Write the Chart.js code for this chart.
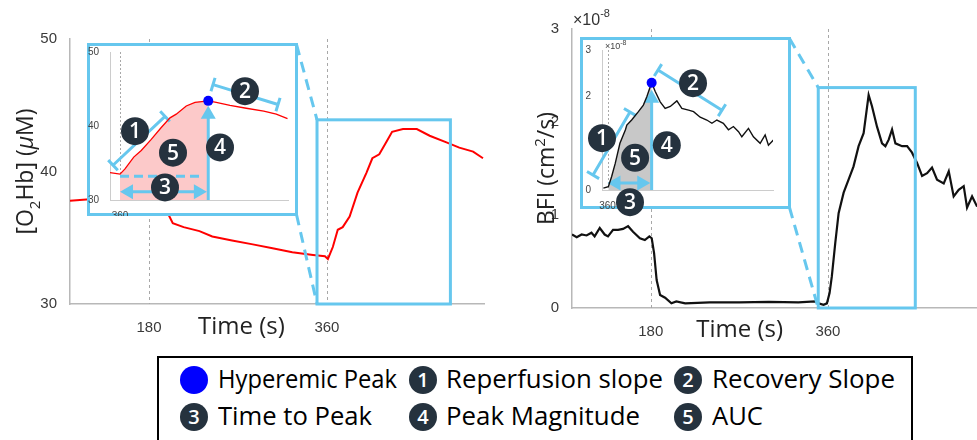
<!DOCTYPE html>
<html>
<head>
<meta charset="utf-8">
<script src="https://cdn.jsdelivr.net/npm/chart.js@4.4.1/dist/chart.umd.min.js"></script>
<style>
  html, body { margin: 0; background: #fff; }
  #wrap { position: relative; width: 977px; height: 440px; overflow: hidden; background: #fff; }
  #wrap canvas { position: absolute; }
  .inset { position: absolute; box-sizing: border-box; border: 3px solid #66c7ee; background: #fff; }
  #legend { position: absolute; left: 157px; top: 356px; width: 756px; height: 100px; box-sizing: border-box; border: 2px solid #000; }
  .lg-text { position: absolute; font: 25px 'Open Sans', sans-serif; line-height: 30px; color: #000; white-space: nowrap; transform-origin: 0 50%; }
  .lg-mark { position: absolute; width: 28px; height: 28px; border-radius: 50%; background: #25323e; color: #fff; font: 600 20px 'Open Sans', sans-serif; line-height: 28px; text-align: center; }
</style>
</head>
<body>
<div id="wrap">
  <canvas id="mainL" width="490" height="345" style="left:0;top:0"></canvas>
  <canvas id="mainR" width="487" height="345" style="left:490px;top:0"></canvas>
  <div id="boxL" class="inset"></div>
  <canvas id="insetL" width="211" height="173" style="left:87px;top:43px"></canvas>
  <div id="boxR" class="inset"></div>
  <canvas id="insetR" width="211" height="190" style="left:580px;top:37px"></canvas>
  <div id="legend"></div>
</div>
<script>
// ---- data ----
// left panel: oxy-haemoglobin, uM
const leftTime = [100, 120, 140, 160, 180, 190, 200, 204, 215, 231, 244, 264, 285, 305, 325, 346, 358, 361, 366, 371, 376, 383, 391, 400, 406, 413, 420, 426, 437, 451, 464, 481, 494, 508, 518];
const leftO2Hb = [37.8, 37.9, 37.8, 37.9, 37.8, 37.3, 36.7, 36.1, 35.8, 35.5, 35.1, 34.8, 34.5, 34.2, 33.9, 33.7, 33.6, 33.4, 34.3, 35.6, 35.8, 36.6, 38.4, 39.9, 41.0, 41.3, 42.2, 43.0, 43.2, 43.2, 42.7, 42.2, 41.8, 41.5, 41.0];
const leftInsetTime = [352, 360, 364, 371, 377, 385, 393, 400, 405, 413, 420, 430.6, 437, 448, 461, 475, 485, 494];
const leftInsetO2Hb = [33.7, 33.5, 34.2, 35.8, 36.7, 38.2, 39.8, 41.1, 41.6, 42.7, 43.2, 43.4, 43.2, 42.8, 42.4, 42.0, 41.6, 41.0];
const leftPeak = [430.6, 43.4];

// right panel: blood flow index, x1e-8 cm2/s
const rightTime = [100, 104.8, 109.8, 114.8, 119.8, 123, 128.2, 133.2, 136.6, 141.7, 146.8, 151.9, 157, 162, 169, 174, 178.6, 181, 183.4, 186, 189.5, 194.6, 201, 206, 215, 240, 270, 300, 330, 347, 350.6, 355.6, 359, 361.7, 364, 367.5, 370.9, 376, 381, 386, 391.2, 396.3, 401.4, 404.8, 409.9, 415, 418.4, 421.8, 425.2, 428.6, 435.4, 440.5, 445.5, 450.6, 455.7, 460.8, 465.8, 470.9, 477.7, 482.8, 487.8, 492.9, 498, 501.4, 506.5, 511.6];
const rightBFI = [0.79, 0.76, 0.79, 0.78, 0.81, 0.77, 0.86, 0.79, 0.77, 0.84, 0.84, 0.85, 0.88, 0.82, 0.75, 0.73, 0.77, 0.75, 0.59, 0.30, 0.14, 0.11, 0.05, 0.07, 0.05, 0.06, 0.06, 0.065, 0.06, 0.07, 0.05, 0.035, 0.05, 0.16, 0.34, 0.70, 1.02, 1.24, 1.38, 1.52, 1.74, 1.88, 2.29, 2.17, 1.95, 1.77, 1.74, 1.81, 1.92, 1.77, 1.74, 1.74, 1.67, 1.56, 1.42, 1.45, 1.51, 1.38, 1.34, 1.47, 1.20, 1.27, 1.31, 1.08, 1.2, 1.09];
const rightInsetTime = [357, 360.6, 363, 365.6, 369, 373, 374, 377.5, 382.4, 386, 388.5, 391.4, 392, 394.6, 398.2, 401.8, 405.5, 410.3, 413.9, 418.8, 422.4, 427.2, 432, 435.7, 439.3, 444, 447.7, 451.3, 455, 457.4, 462.2, 465.8, 470.7, 474.3, 476.7, 480.3];
const rightInsetBFI = [0.04, 0.07, 0.29, 0.57, 1.0, 1.29, 1.39, 1.5, 1.68, 1.82, 2.0, 2.25, 2.3, 2.11, 1.89, 1.75, 1.79, 1.91, 1.75, 1.71, 1.68, 1.56, 1.5, 1.43, 1.5, 1.43, 1.29, 1.36, 1.25, 1.14, 1.32, 1.14, 1.0, 1.18, 0.96, 1.07];
const rightPeak = [392, 2.3];

// ticks / markers
const xTickValues = [180, 360];
const markerTimes = [180, 360];
const leftYTicks = [30, 40, 50];
const rightYTicks = [0, 1, 2, 3];
const insetXTicks = [360];
const rightInsetYTicks = [0, 2, 3];
const occlusionEnd = 360;

const legendLabels = ['Hyperemic Peak', 'Reperfusion slope', 'Recovery Slope', 'Time to Peak', 'Peak Magnitude', 'AUC'];
const legendMarkers = ['dot', '1', '2', '3', '4', '5'];

// ---- styling ----
const BLUE = '#66c7ee';
const BADGE = '#25323e';
const AXIS = '#b8b8b8';
const boxL = { left: 87, top: 43, width: 211, height: 173 };
const boxR = { left: 580, top: 37, width: 211, height: 172 };

const pts = (xs, ys) => xs.map((t, i) => ({ x: t, y: ys[i] }));

function drawParts(ctx, parts, size) {
  // measure then draw a run of text with sub/superscripts, centred on 0,0
  const font = p => `${p.italic ? 'italic ' : ''}${p.sub || p.sup ? Math.round(size * 0.65) : size}px "Open Sans"`;
  let w = 0;
  parts.forEach(p => { ctx.font = font(p); w += ctx.measureText(p.t).width; });
  let x = -w / 2;
  ctx.textAlign = 'left';
  ctx.textBaseline = 'alphabetic';
  parts.forEach(p => {
    ctx.font = font(p);
    const dy = p.sub ? size * 0.3 : p.sup ? -size * 0.4 : 0;
    ctx.fillText(p.t, x, size * 0.35 + dy);
    x += ctx.measureText(p.t).width;
  });
}

function badge(ctx, c, n, r) {
  ctx.save();
  ctx.fillStyle = BADGE;
  ctx.beginPath(); ctx.arc(c.x, c.y, r, 0, Math.PI * 2); ctx.fill();
  ctx.fillStyle = '#fff';
  ctx.font = '600 21px "Open Sans"';
  ctx.textAlign = 'center'; ctx.textBaseline = 'middle';
  ctx.fillText(n, c.x, c.y + 1);
  ctx.restore();
}

function bracket(ctx, a, b, cap) {
  const dx = b.x - a.x, dy = b.y - a.y, L = Math.hypot(dx, dy);
  const nx = -dy / L * cap, ny = dx / L * cap;
  ctx.beginPath();
  ctx.moveTo(a.x, a.y); ctx.lineTo(b.x, b.y);
  ctx.moveTo(a.x - nx, a.y - ny); ctx.lineTo(a.x + nx, a.y + ny);
  ctx.moveTo(b.x - nx, b.y - ny); ctx.lineTo(b.x + nx, b.y + ny);
  ctx.stroke();
}

function arrow(ctx, a, b, both) {
  const len = 13, half = 7.5;
  const dx = b.x - a.x, dy = b.y - a.y, L = Math.hypot(dx, dy), ux = dx / L, uy = dy / L;
  const s = both ? { x: a.x + ux * (len - 1), y: a.y + uy * (len - 1) } : a;
  const e = { x: b.x - ux * (len - 1), y: b.y - uy * (len - 1) };
  ctx.beginPath(); ctx.moveTo(s.x, s.y); ctx.lineTo(e.x, e.y); ctx.stroke();
  const head = (tip, ux, uy) => {
    ctx.beginPath();
    ctx.moveTo(tip.x, tip.y);
    ctx.lineTo(tip.x - ux * len - uy * half, tip.y - uy * len + ux * half);
    ctx.lineTo(tip.x - ux * len + uy * half, tip.y - uy * len - ux * half);
    ctx.closePath(); ctx.fill();
  };
  head(b, ux, uy);
  if (both) head(a, -ux, -uy);
}

// dotted markers, zoom box + connectors, axis titles
const mainDecor = {
  id: 'mainDecor',
  beforeDatasetsDraw(chart) {
    const { ctx, chartArea: a, scales: { x } } = chart;
    ctx.save();
    ctx.strokeStyle = '#a8a8a8'; ctx.lineWidth = 1; ctx.setLineDash([3, 3]);
    markerTimes.forEach(t => {
      const px = Math.round(x.getPixelForValue(t)) + 0.5;
      ctx.beginPath(); ctx.moveTo(px, a.top); ctx.lineTo(px, a.bottom); ctx.stroke();
    });
    ctx.restore();
  },
  afterDatasetsDraw(chart, args, o) {
    const { ctx, scales: { x, y } } = chart;
    const x1 = x.getPixelForValue(o.zoomX[0]), x2 = x.getPixelForValue(o.zoomX[1]);
    const y1 = y.getPixelForValue(o.zoomY[1]), y2 = y.getPixelForValue(o.zoomY[0]);
    ctx.save();
    ctx.strokeStyle = BLUE; ctx.lineWidth = 3;
    ctx.strokeRect(x1, y1, x2 - x1, y2 - y1);
    const bx = o.box.left + o.box.width - 1.5 - o.offsetX;
    ctx.setLineDash([11, 7]);
    ctx.beginPath();
    ctx.moveTo(bx, o.box.top + 1.5); ctx.lineTo(x1, y1);
    ctx.moveTo(bx, o.box.top + o.box.height - 1.5); ctx.lineTo(x1, y2);
    ctx.stroke();
    ctx.restore();
  },
  afterDraw(chart, args, o) {
    const { ctx, chartArea: a } = chart;
    ctx.save();
    ctx.fillStyle = '#222';
    ctx.font = '24px "Open Sans"';
    ctx.textAlign = 'center'; ctx.textBaseline = 'middle';
    ctx.fillText('Time (s)', a.left + 0.414 * (a.right - a.left), a.bottom + o.xTitleDy);
    ctx.translate(o.yTitleX, (a.top + a.bottom) / 2);
    ctx.rotate(-Math.PI / 2);
    drawParts(ctx, o.yTitle, 23);
    ctx.restore();
    if (o.exponent) {
      ctx.save();
      ctx.fillStyle = '#333';
      ctx.font = '16px "Liberation Sans"';
      ctx.textBaseline = 'alphabetic';
      ctx.fillText('\u00d710', a.left + 1, a.top - 4);
      const w = ctx.measureText('\u00d710').width;
      ctx.font = '11px "Liberation Sans"';
      ctx.fillText('-8', a.left + 1 + w, a.top - 12);
      ctx.restore();
    }
  }
};

function mainChart(id, c) {
  return new Chart(document.getElementById(id), {
    type: 'line',
    data: {
      datasets: [{
        data: pts(c.time, c.values),
        borderColor: c.color, borderWidth: c.lineWidth,
        pointRadius: 0, fill: false, tension: 0
      }]
    },
    options: {
      responsive: false, animation: false, events: [],
      layout: { padding: c.padding },
      plugins: { legend: { display: false }, tooltip: { enabled: false }, mainDecor: c.decor },
      scales: {
        x: {
          type: 'linear', min: c.xMin, max: c.xMax,
          afterBuildTicks: s => { s.ticks = xTickValues.map(v => ({ value: v })); },
          afterFit: s => { s.height = c.xHeight; },
          grid: { display: false },
          border: { color: AXIS, width: 1.5 },
          ticks: { font: { family: 'Liberation Sans', size: 15 }, color: '#3a3a3a', padding: 7, maxRotation: 0 }
        },
        y: {
          min: c.yMin, max: c.yMax,
          afterBuildTicks: s => { s.ticks = c.yTicks.map(v => ({ value: v })); },
          afterFit: s => { s.width = c.yWidth; },
          grid: { display: false },
          border: { color: AXIS, width: 1.5 },
          ticks: { font: { family: 'Liberation Sans', size: 15 }, color: '#3a3a3a', padding: 5 }
        }
      }
    },
    plugins: [mainDecor]
  });
}

// annotations inside the zoomed insets
const insetDecor = {
  id: 'insetDecor',
  beforeDatasetsDraw(chart) {
    const { ctx, chartArea: a, scales: { x } } = chart;
    const px = Math.round(x.getPixelForValue(occlusionEnd)) + 0.5;
    ctx.save();
    ctx.strokeStyle = '#a8a8a8'; ctx.lineWidth = 1; ctx.setLineDash([2, 2]);
    ctx.beginPath(); ctx.moveTo(px, a.top); ctx.lineTo(px, a.bottom); ctx.stroke();
    ctx.restore();
  },
  afterDatasetDraw(chart, args, o) {
    if (args.index !== 0) return;
    const { ctx, scales: { x, y } } = chart;
    const P = p => ({ x: x.getPixelForValue(p[0]), y: y.getPixelForValue(p[1]) });
    const m = o.marks;
    ctx.save();
    ctx.strokeStyle = BLUE; ctx.fillStyle = BLUE; ctx.lineWidth = 3;
    bracket(ctx, P(m.bracket1[0]), P(m.bracket1[1]), 7);
    bracket(ctx, P(m.bracket2[0]), P(m.bracket2[1]), 7);
    if (m.dash3) {
      ctx.setLineDash([9, 5]);
      const a = P(m.dash3[0]), b = P(m.dash3[1]);
      ctx.beginPath(); ctx.moveTo(a.x, a.y); ctx.lineTo(b.x, b.y); ctx.stroke();
      ctx.setLineDash([]);
    }
    arrow(ctx, P(m.arrow3[0]), P(m.arrow3[1]), true);
    const peak = P(o.peak), base = P([o.peak[0], y.min]);
    arrow(ctx, base, { x: peak.x, y: peak.y + o.tipGap }, false);
    ctx.restore();
    badge(ctx, P(m.badge1), '1', 14);
    badge(ctx, P(m.badge2), '2', 14);
    badge(ctx, P(m.badge3), '3', 14);
    badge(ctx, P(m.badge4), '4', 14);
    badge(ctx, P(m.badge5), '5', 14);
  },
  afterDraw(chart, args, o) {
    if (!o.exponent) return;
    const { ctx, chartArea: a } = chart;
    ctx.save();
    ctx.fillStyle = '#444';
    ctx.font = '9px "Liberation Sans"';
    ctx.fillText('\u00d710', a.left + 3, a.top - 1);
    const w = ctx.measureText('\u00d710').width;
    ctx.font = '7px "Liberation Sans"';
    ctx.fillText('-8', a.left + 3 + w, a.top - 5);
    ctx.restore();
  }
};

function insetChart(id, c) {
  const all = pts(c.time, c.values);
  const auc = all.filter(p => p.x >= occlusionEnd && p.x <= c.peak[0]);
  return new Chart(document.getElementById(id), {
    type: 'line',
    data: {
      datasets: [
        { data: auc, borderWidth: 0, pointRadius: 0, fill: 'start', backgroundColor: c.fillColor, order: 3 },
        { data: all, borderColor: c.color, borderWidth: c.lineWidth, pointRadius: 0, fill: false, order: 2 },
        { data: [{ x: c.peak[0], y: c.peak[1] }], showLine: false, pointRadius: 5, pointBorderWidth: 0, pointBackgroundColor: '#0000ff', order: 1 }
      ]
    },
    options: {
      responsive: false, animation: false, events: [],
      layout: { padding: c.padding },
      plugins: { legend: { display: false }, tooltip: { enabled: false }, insetDecor: c.decor },
      scales: {
        x: {
          type: 'linear', min: c.xMin, max: c.xMax,
          afterBuildTicks: s => { s.ticks = insetXTicks.map(v => ({ value: v })); },
          afterFit: s => { s.height = c.xHeight; },
          grid: { display: false },
          border: { color: '#cccccc', width: 1 },
          ticks: { font: { family: 'Liberation Sans', size: 10 }, color: '#444', padding: 2, maxRotation: 0 }
        },
        y: {
          min: c.yMin, max: c.yMax,
          afterBuildTicks: s => { s.ticks = c.yTicks.map(v => ({ value: v })); },
          afterFit: s => { s.width = c.yWidth; },
          grid: { display: false },
          border: { color: '#cccccc', width: 1 },
          ticks: { font: { family: 'Liberation Sans', size: 10 }, color: '#444', padding: 3 }
        }
      }
    },
    plugins: [insetDecor]
  });
}

// place inset frames
[['boxL', boxL], ['boxR', boxR]].forEach(([id, b]) => {
  Object.assign(document.getElementById(id).style, {
    left: b.left + 'px', top: b.top + 'px', width: b.width + 'px', height: b.height + 'px'
  });
});

mainChart('mainL', {
  time: leftTime, values: leftO2Hb, color: '#ff0000', lineWidth: 2,
  xMin: 100, xMax: 519, yMin: 30, yMax: 50, yTicks: leftYTicks,
  padding: { left: 0, top: 39, right: 6, bottom: 0 }, yWidth: 70, xHeight: 41,
  decor: {
    zoomX: [350, 485], zoomY: [30, 43.9], box: boxL, offsetX: 0,
    xTitleDy: 23, yTitleX: 25,
    yTitle: [{ t: '[O' }, { t: '2', sub: true }, { t: 'Hb] (' }, { t: '\u03bc', italic: true }, { t: 'M)' }]
  }
});

mainChart('mainR', {
  time: rightTime, values: rightBFI, color: '#111111', lineWidth: 2.2,
  xMin: 100, xMax: 511.5, yMin: 0, yMax: 3, yTicks: rightYTicks,
  padding: { left: 0, top: 29, right: 0, bottom: 0 }, yWidth: 82, xHeight: 37,
  decor: {
    zoomX: [350.2, 448.8], zoomY: [0, 2.37], box: boxR, offsetX: 490,
    xTitleDy: 22, yTitleX: 56, exponent: true,
    yTitle: [{ t: 'BFI (cm' }, { t: '2', sup: true }, { t: '/s)' }]
  }
});

insetChart('insetL', {
  time: leftInsetTime, values: leftInsetO2Hb, peak: leftPeak,
  color: '#ff0000', lineWidth: 1.3, fillColor: '#fcc9c9',
  xMin: 352, xMax: 494.4, yMin: 30, yMax: 50, yTicks: leftYTicks,
  padding: { left: 0, top: 7, right: 10, bottom: 0 }, yWidth: 23, xHeight: 16,
  decor: {
    peak: leftPeak, tipGap: 5,
    marks: {
      bracket1: [[354.4, 34.7], [396, 41.3]], badge1: [372, 39.3],
      bracket2: [[434.4, 45.6], [486.4, 42.9]], badge2: [460, 44.7],
      dash3: [[360, 33.2], [426.4, 33.2]],
      arrow3: [[360, 31.1], [429.5, 31.1]], badge3: [396, 31.7],
      badge4: [440, 37.1], badge5: [402.4, 36.4]
    }
  }
});

insetChart('insetR', {
  time: rightInsetTime, values: rightInsetBFI, peak: rightPeak,
  color: '#111111', lineWidth: 1.4, fillColor: '#c8c8c8',
  xMin: 356, xMax: 480, yMin: 0, yMax: 3, yTicks: rightInsetYTicks,
  padding: { left: 0, top: 13, right: 18, bottom: 0 }, yWidth: 22, xHeight: 37,
  decor: {
    peak: rightPeak, tipGap: 7, exponent: true,
    marks: {
      bracket1: [[349.5, 0.32], [376.3, 1.67]], badge1: [356, 1.11],
      bracket2: [[396.6, 2.57], [443, 1.71]], badge2: [422, 2.29],
      dash3: null,
      arrow3: [[360, 0.15], [391, 0.15]], badge3: [376.3, -0.26],
      badge4: [403, 0.96], badge5: [380, 0.69]
    }
  }
});

// ---- figure legend ----
const legendTextX = [218, 446, 712];
const legendMarkX = [194, 423, 688];
const legendRowY = [380, 417];
const legendWidths = [179, 217, 183, 154, 194, 51];
const wrap = document.getElementById('wrap');
legendLabels.forEach((label, i) => {
  const col = i % 3, row = Math.floor(i / 3);
  const mk = document.createElement('div');
  mk.className = 'lg-mark';
  mk.style.left = (legendMarkX[col] - 14) + 'px';
  mk.style.top = (legendRowY[row] - 14) + 'px';
  if (legendMarkers[i] === 'dot') mk.style.background = '#0000ff';
  else mk.textContent = legendMarkers[i];
  wrap.appendChild(mk);
  const tx = document.createElement('div');
  tx.className = 'lg-text';
  tx.textContent = label;
  tx.style.left = legendTextX[col] + 'px';
  tx.style.top = (legendRowY[row] - 17) + 'px';
  wrap.appendChild(tx);
  const w = tx.getBoundingClientRect().width;
  tx.style.transform = `scaleX(${(legendWidths[i] / w).toFixed(3)})`;
});
</script>
</body>
</html>
